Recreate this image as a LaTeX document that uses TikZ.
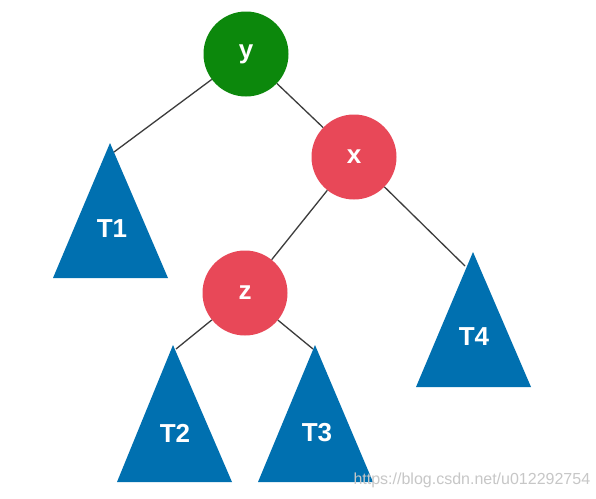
\documentclass[tikz,border=0pt]{standalone}
\usepackage{fontspec}
\setmainfont{Liberation Sans}
\begin{document}
\begin{tikzpicture}[x=1pt,y=-1pt,
  vnode/.style={circle,minimum size=85pt,inner sep=0pt,text=white,font=\fontsize{26}{28}\selectfont\bfseries},
  green node/.style={vnode,fill=nodegreen},
  red node/.style={vnode,fill=nodered},
  tree/.style={fill=treeblue},
  treelabel/.style={text=white,font=\fontsize{26}{28}\selectfont\bfseries},
  edge/.style={draw=edgegray,line width=1.3pt}]
\definecolor{nodegreen}{RGB}{12,136,12}
\definecolor{nodered}{RGB}{232,72,88}
\definecolor{treeblue}{RGB}{0,112,176}
\definecolor{edgegray}{RGB}{60,60,60}
\useasboundingbox[fill=white] (0,0) rectangle (596,498);
% subtrees
\fill[tree] (110,143) -- (168,278) -- (53,278) -- cycle;
\fill[tree] (173,345) -- (232,482) -- (117,482) -- cycle;
\fill[tree] (315,345) -- (373,482) -- (258,482) -- cycle;
\fill[tree] (473,252) -- (531,387) -- (416,387) -- cycle;
\coordinate (t1) at (114,152);
\coordinate (t2) at (176,349);
\coordinate (t3) at (313,349);
\coordinate (t4) at (465,266);
\node[treelabel] (l1) at (112,229) {T1};
\node[treelabel] (l2) at (175,433) {T2};
\node[treelabel] (l3) at (317,433) {T3};
\node[treelabel] (l4) at (474,337) {T4};
% nodes
\node[green node] (y) at (246,54) {y};
\node[red node] (x) at (354,157) {x};
\node[red node] (z) at (245,293) {z};
% edges
\draw[edge] (y) -- (t1);
\draw[edge] (y) -- (x);
\draw[edge] (x) -- (z);
\draw[edge] (x) -- (t4);
\draw[edge] (z) -- (t2);
\draw[edge] (z) -- (t3);
% watermark
\node[text=black!22,anchor=west,font=\fontsize{16}{18}\selectfont] (wm) at (350,480) {https://blog.csdn.net/u012292754};
\end{tikzpicture}
\end{document}
